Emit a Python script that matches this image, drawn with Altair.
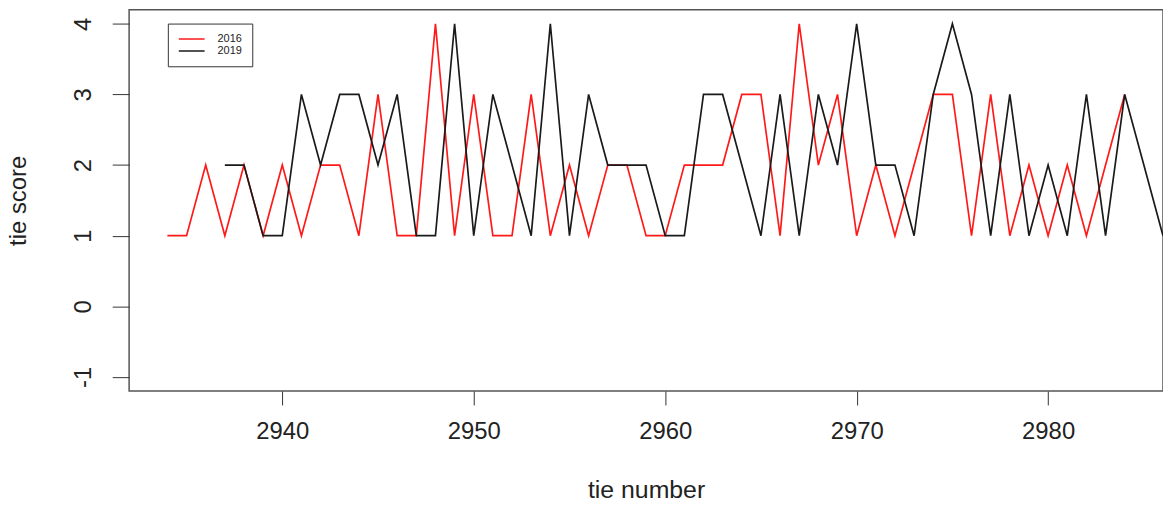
import altair as alt
import pandas as pd

# 2016 series
x2016 = list(range(2934, 2985))
y2016 = [1, 1, 2, 1, 2, 1, 2, 1, 2, 2,
         1, 3, 1, 1, 4, 1, 3, 1, 1, 3,
         1, 2, 1, 2, 2, 1, 1, 2, 2, 2,
         3, 3, 1, 4, 2, 3, 1, 2, 1, 2,
         3, 3, 1, 3, 1, 2, 1, 2, 1, 2,
         3]
# 2019 series
x2019 = list(range(2937, 2987))
y2019 = [2, 2, 1, 1, 3, 2, 3, 3, 2, 3,
         1, 1, 4, 1, 3, 2, 1, 4, 1, 3,
         2, 2, 2, 1, 1, 3, 3, 2, 1, 3,
         1, 3, 2, 4, 2, 2, 1, 3, 4, 3,
         1, 3, 1, 2, 1, 3, 1, 3, 2, 1]

series = ["2016", "2019"]
colors = ["#ff1a1a", "#1a1a1a"]
x_ticks = [2940, 2950, 2960, 2970, 2980]
y_ticks = [-1, 0, 1, 2, 3, 4]

df = pd.concat([
    pd.DataFrame({"tie": x2016, "score": y2016, "year": "2016"}),
    pd.DataFrame({"tie": x2019, "score": y2019, "year": "2019"}),
])

FONT = "Liberation Sans"

chart = alt.Chart(df).mark_line(strokeWidth=1.7, clip=True).encode(
    x=alt.X("tie:Q",
            scale=alt.Scale(domain=[2932, 2986], nice=False, zero=False),
            axis=alt.Axis(values=x_ticks, title="tie number",
                          grid=False, domain=False, tickSize=14, tickColor="#333",
                          labelFont=FONT, labelFontSize=24, labelColor="#222",
                          labelPadding=15, format="d",
                          titleFont=FONT, titleFontSize=25, titleFontWeight="normal",
                          titleColor="#222", titleBaseline="alphabetic", titleY=107)),
    y=alt.Y("score:Q",
            scale=alt.Scale(domain=[-1.2, 4.2], nice=False, zero=False),
            axis=alt.Axis(values=y_ticks, title="tie score",
                          grid=False, domain=False, tickSize=17, tickColor="#333",
                          labelFont=FONT, labelFontSize=24, labelColor="#222",
                          labelExpr="toString(datum.value)",
                          labelAngle=-90, labelAlign="center", labelBaseline="alphabetic",
                          labelPadding=22,
                          titleFont=FONT, titleFontSize=24, titleFontWeight="normal",
                          titleColor="#222", titleBaseline="alphabetic",
                          titleAngle=-90, titleX=-104, titleY=192, titleAlign="center")),
    color=alt.Color("year:N",
                    scale=alt.Scale(domain=series, range=colors),
                    legend=alt.Legend(orient="none", legendX=39, legendY=14, title=None,
                                      symbolType="stroke", symbolSize=676,
                                      symbolStrokeWidth=1.5, clipHeight=11,
                                      labelFont=FONT, labelFontSize=11, labelColor="#222",
                                      strokeColor="#333", fillColor="white",
                                      padding=10, rowPadding=0, labelOffset=12)),
).properties(
    width=1041, height=384,
    autosize=alt.AutoSizeParams(type="none"),
    padding={"left": 130, "top": 8, "right": 0, "bottom": 114},
).configure_view(stroke="#555", strokeWidth=1.5)

chart.save("out.html", embed_options={"renderer": "svg", "actions": False})
